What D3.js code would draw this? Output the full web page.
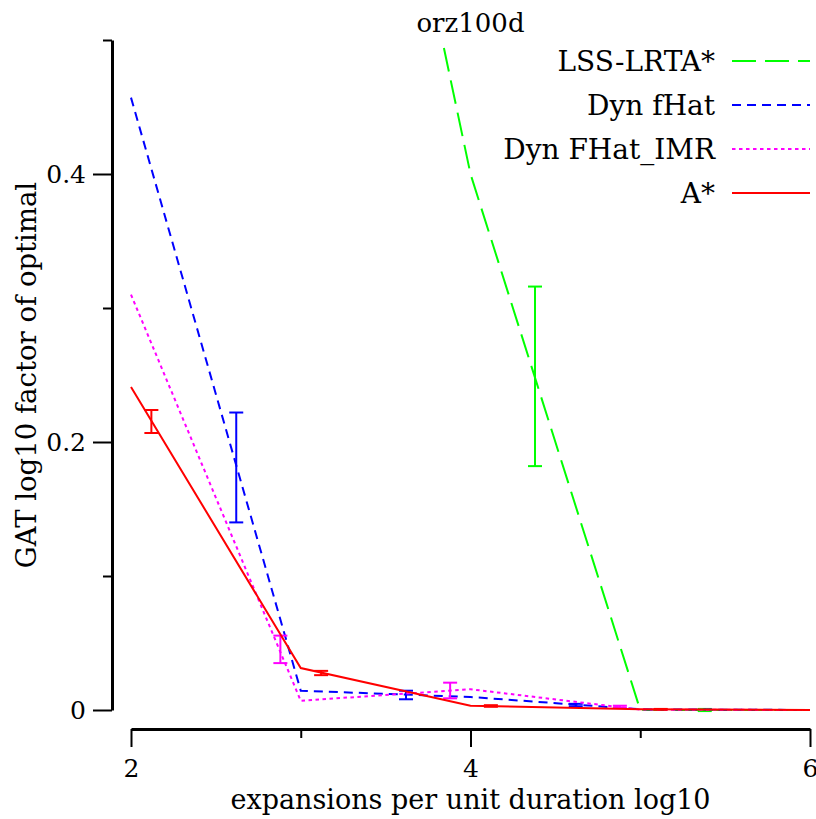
<!DOCTYPE html>
<html>
<head>
<meta charset="utf-8">
<script src="https://cdn.jsdelivr.net/npm/d3@7"></script>
<style>
  html, body { margin: 0; padding: 0; background: #fff; }
  svg { display: block; }
  text { font-family: "DejaVu Serif", serif; fill: #000; }
</style>
</head>
<body>
<svg id="chart" width="816" height="819"></svg>
<script>
// ---- data ----
const title = "orz100d";
const xLabel = "expansions per unit duration log10";
const yLabel = "GAT log10 factor of optimal";
const xMajorTicks = [2, 4, 6];
const xMinorTicks = [3, 5];
const yMajorTicks = [0, 0.2, 0.4];
const yMinorTicks = [0.1, 0.3, 0.5];

const seriesNames = ["LSS-LRTA*", "Dyn fHat", "Dyn FHat_IMR", "A*"];
const seriesColors = ["#00ff00", "#0000ff", "#ff00ff", "#ff0000"];
const seriesDash = ["24,9", "9,6", "3.5,3.5", null];

// line vertices
const lssX = [3, 4, 5, 6];
const lssY = [1.0, 0.40, 0.0, 0.0];
const fhatX = [2, 3, 4, 5, 6];
const fhatY = [0.457, 0.0144, 0.0097, 0.0005, 0.0];
const imrX = [2, 3, 4, 5, 6];
const imrY = [0.310, 0.0069, 0.0155, 0.0003, 0.0];
const astarX = [2, 3, 4, 5, 6];
const astarY = [0.241, 0.0313, 0.0032, 0.0006, 0.0];

// error bars: x position, lower, upper
const lssErrX = [4.38, 5.38];
const lssErrLo = [0.182, -0.0008];
const lssErrHi = [0.316, 0.0008];
const fhatErrX = [2.62, 3.62, 4.62];
const fhatErrLo = [0.140, 0.0080, 0.0028];
const fhatErrHi = [0.222, 0.0144, 0.0046];
const imrErrX = [2.88, 3.88, 4.88];
const imrErrLo = [0.035, 0.0087, 0.0016];
const imrErrHi = [0.0555, 0.0204, 0.0032];
const astarErrX = [2.12, 3.12, 4.12, 5.12];
const astarErrLo = [0.2067, 0.0260, 0.0024, 0.0002];
const astarErrHi = [0.2239, 0.0292, 0.0036, 0.0008];

// ---- build ----
const svg = d3.select("#chart");
const x = d3.scaleLinear().domain([2, 6]).range([131, 810]);
const y = d3.scaleLinear().domain([0, 0.5]).range([710, 40]);

const series = [
  {xs: lssX, ys: lssY, ex: lssErrX, lo: lssErrLo, hi: lssErrHi},
  {xs: fhatX, ys: fhatY, ex: fhatErrX, lo: fhatErrLo, hi: fhatErrHi},
  {xs: imrX, ys: imrY, ex: imrErrX, lo: imrErrLo, hi: imrErrHi},
  {xs: astarX, ys: astarY, ex: astarErrX, lo: astarErrLo, hi: astarErrHi}
].map((s, i) => Object.assign(s, {name: seriesNames[i], color: seriesColors[i], dash: seriesDash[i]}));

svg.append("defs").append("clipPath").attr("id", "clip")
  .append("rect").attr("x", 0).attr("y", y(0.5)).attr("width", 816).attr("height", 730 - y(0.5));

// axes
const xAxisY = 729;
const yAxisX = 112;
const gx = svg.append("g").attr("transform", `translate(0,${xAxisY})`)
  .call(d3.axisBottom(x).tickValues(xMajorTicks).tickSize(18).tickSizeOuter(0).tickPadding(12).tickFormat(d3.format("d")));
const gx2 = svg.append("g").attr("transform", `translate(0,${xAxisY})`)
  .call(d3.axisBottom(x).tickValues(xMinorTicks).tickSize(9).tickSizeOuter(0).tickFormat(""));
gx2.select(".domain").remove();
const gy = svg.append("g").attr("transform", `translate(${yAxisX},0)`)
  .call(d3.axisLeft(y).tickValues(yMajorTicks).tickSize(19).tickSizeOuter(0).tickPadding(7).tickFormat(d => d === 0 ? "0" : d3.format(".1f")(d)));
const gy2 = svg.append("g").attr("transform", `translate(${yAxisX},0)`)
  .call(d3.axisLeft(y).tickValues(yMinorTicks).tickSize(9).tickSizeOuter(0).tickFormat(""));
gy2.select(".domain").remove();
[gx, gx2, gy, gy2].forEach(g => {
  g.selectAll(".domain").attr("stroke", "#000").attr("stroke-width", 3);
  g.selectAll(".tick line").attr("stroke", "#000").attr("stroke-width", 2);
  g.selectAll(".tick text").attr("font-family", "DejaVu Serif").attr("font-size", 25).attr("fill", "#000");
});

// data lines
const plot = svg.append("g").attr("clip-path", "url(#clip)");
const line = d3.line().x(d => x(d[0])).y(d => y(d[1]));
series.forEach(s => {
  const pts = s.xs.map((v, i) => [v, s.ys[i]]);
  const p = plot.append("path").attr("d", line(pts))
    .attr("fill", "none").attr("stroke", s.color).attr("stroke-width", 2);
  if (s.dash) p.attr("stroke-dasharray", s.dash);
  const cap = 7;
  s.ex.forEach((ex, i) => {
    const g = plot.append("g").attr("stroke", s.color).attr("stroke-width", 2);
    const cx = x(ex), y1 = y(s.lo[i]), y2 = y(s.hi[i]);
    g.append("line").attr("x1", cx).attr("x2", cx).attr("y1", y1).attr("y2", y2);
    g.append("line").attr("x1", cx - cap).attr("x2", cx + cap).attr("y1", y1).attr("y2", y1);
    g.append("line").attr("x1", cx - cap).attr("x2", cx + cap).attr("y1", y2).attr("y2", y2);
  });
});

// legend
const legendRows = [61, 105, 149, 193];
series.forEach((s, i) => {
  const ly = legendRows[i];
  svg.append("text").attr("x", 715).attr("y", ly).attr("dy", "0.36em")
    .attr("text-anchor", "end").attr("font-size", 28).text(s.name);
  const l = svg.append("line").attr("x1", 732).attr("x2", 810).attr("y1", ly).attr("y2", ly)
    .attr("stroke", s.color).attr("stroke-width", 2);
  if (s.dash) l.attr("stroke-dasharray", s.dash);
});

// titles
svg.append("text").attr("x", x(4)).attr("y", 32).attr("text-anchor", "middle")
  .attr("font-size", 26).text(title);
svg.append("text").attr("x", x(4)).attr("y", 809).attr("text-anchor", "middle")
  .attr("font-size", 27).text(xLabel);
svg.append("text").attr("transform", `translate(36,${(y(0) + y(0.5)) / 2}) rotate(-90)`)
  .attr("text-anchor", "middle").attr("font-size", 27.5).text(yLabel);
</script>
</body>
</html>
